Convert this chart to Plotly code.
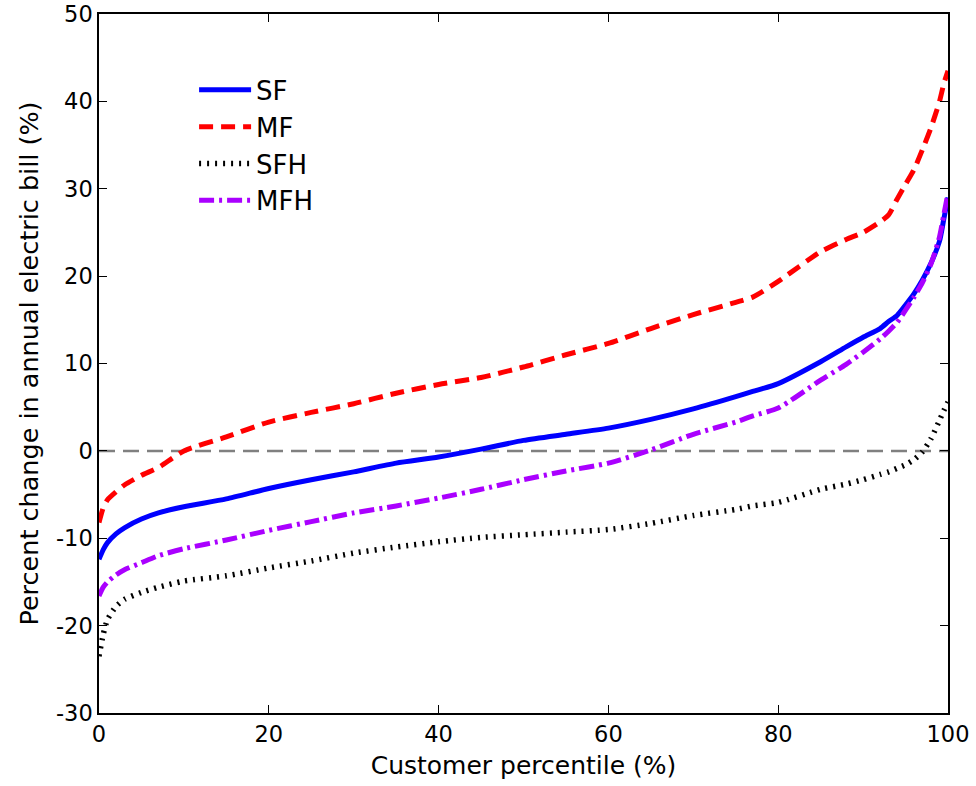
import plotly.graph_objects as go

# Customer percentile (%) at which each curve is sampled
percentile = [0, 0.5, 1, 2, 3, 5, 7, 10, 15, 20, 25, 30, 35, 40, 45, 50, 55, 60,
              65, 70, 75, 77, 80, 85, 88, 90, 92, 93, 94, 95, 96, 97, 98, 99, 99.5, 100]

# Percent change in annual electric bill for each customer class
sf = [-12.4, -11.3, -10.5, -9.5, -8.8, -7.8, -7.1, -6.4, -5.5, -4.3, -3.3, -2.4, -1.4,
      -0.7, 0.2, 1.2, 1.9, 2.6, 3.6, 4.8, 6.2, 6.8, 7.7, 10.2, 11.9, 13.0, 14.0, 14.8,
      15.5, 16.7, 18.0, 19.6, 21.5, 24.0, 26.5, 29.0]
mf = [-8.2, -6.5, -5.6, -4.7, -3.9, -2.8, -1.9, 0.0, 1.6, 3.3, 4.4, 5.4, 6.6, 7.6, 8.4,
      9.6, 11.0, 12.3, 14.0, 15.6, 17.0, 17.6, 19.4, 22.8, 24.2, 25.0, 26.2, 27.0, 28.8,
      30.5, 32.2, 34.5, 37.0, 40.0, 42.0, 43.5]
sfh = [-23.5, -21.0, -19.3, -17.8, -17.0, -16.2, -15.6, -14.9, -14.3, -13.4, -12.6, -11.7,
       -11.0, -10.4, -9.9, -9.6, -9.3, -9.0, -8.3, -7.4, -6.7, -6.3, -5.9, -4.4, -3.8,
       -3.3, -2.7, -2.4, -2.0, -1.6, -1.0, -0.1, 1.4, 3.5, 4.6, 5.6]
mfh = [-16.6, -15.6, -15.0, -14.2, -13.6, -12.8, -12.0, -11.2, -10.2, -9.1, -8.1, -7.1,
       -6.3, -5.4, -4.4, -3.3, -2.3, -1.4, 0.1, 1.9, 3.3, 4.0, 4.9, 8.1, 9.9, 11.3, 12.8,
       13.7, 14.7, 16.1, 17.6, 19.3, 21.4, 24.5, 27.0, 29.5]

x_ticks = [0, 20, 40, 60, 80, 100]
x_tick_labels = ["0", "20", "40", "60", "80", "100"]
y_ticks = [-30, -20, -10, 0, 10, 20, 30, 40, 50]
y_tick_labels = ["-30", "-20", "-10", "0", "10", "20", "30", "40", "50"]

series = [
    ("SF", sf, "#0000ff", "solid", 5),
    ("MF", mf, "#ff0000", "14px,8px", 5),
    ("SFH", sfh, "#000000", "2px,6px", 5.5),
    ("MFH", mfh, "#aa00ff", "15px,5px,3px,5px", 5),
]

fig = go.Figure()
for name, values, color, dash, width in series:
    fig.add_trace(go.Scatter(
        x=percentile, y=values, name=name, mode="lines",
        line=dict(color=color, width=width, dash=dash, shape="spline", smoothing=0.6),
    ))

# Break-even reference line
fig.add_hline(y=0, line=dict(color="#808080", width=2.5, dash="16px,8px"), layer="below")

text_font = "DejaVu Sans, Verdana, sans-serif"
axis_common = dict(
    showgrid=False, zeroline=False, showline=True, linecolor="#000000", linewidth=1.5,
    mirror="ticks", ticks="inside", ticklen=8, tickwidth=1, tickcolor="#000000",
    tickfont=dict(family=text_font, size=22.5, color="#000000"),
    automargin=False, ticklabeloverflow="allow",
)

fig.update_layout(
    width=976, height=786,
    margin=dict(l=99, r=28, t=14, b=73),
    paper_bgcolor="#ffffff", plot_bgcolor="#ffffff",
    font=dict(family=text_font, color="#000000"),
    showlegend=True,
    legend=dict(
        x=0.112, y=0.925, xanchor="left", yanchor="top",
        bgcolor="rgba(0,0,0,0)", borderwidth=0,
        font=dict(family=text_font, size=26, color="#000000"),
        tracegroupgap=0, itemwidth=52,
    ),
    xaxis=dict(
        range=[0, 100], tickvals=x_ticks, ticktext=x_tick_labels,
        title=dict(text="Customer percentile (%)", font=dict(family=text_font, size=25), standoff=11),
        **axis_common,
    ),
    yaxis=dict(
        range=[-30, 50], tickvals=y_ticks, ticktext=y_tick_labels,
        title=dict(text="Percent change in annual electric bill (%)", font=dict(family=text_font, size=25.5), standoff=10),
        **axis_common,
    ),
)

fig.write_html("out.html")
